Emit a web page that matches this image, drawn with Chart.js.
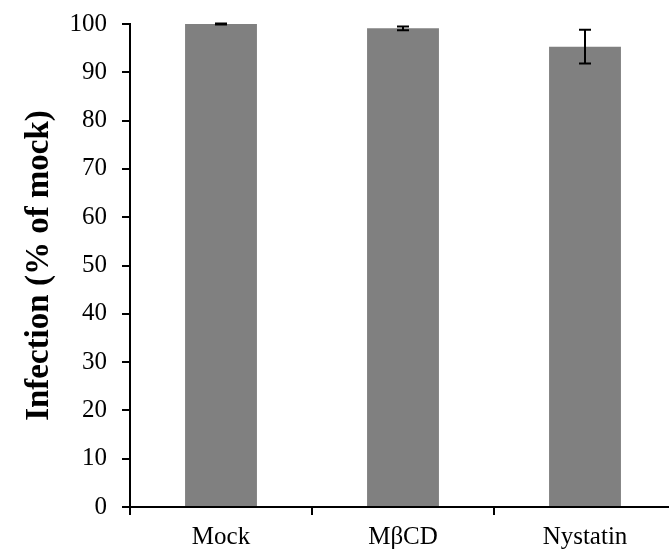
<!DOCTYPE html>
<html>
<head>
<meta charset="utf-8">
<script src="https://cdn.jsdelivr.net/npm/chart.js@4/dist/chart.umd.min.js"></script>
<style>
html,body{margin:0;padding:0;background:#fff;overflow:hidden;}
#wrap{width:669px;height:559px;overflow:hidden;position:relative;}
canvas{display:block;}
.probe{position:absolute;left:-9999px;top:0;font-family:'Liberation Serif';font-size:24px;}
</style>
</head>
<body>
<div id="wrap"><canvas id="c" width="676" height="559"></canvas></div>
<span class="probe">Mock 100 <b>Infection</b></span>
<script>
const categories = ['Mock', 'MβCD', 'Nystatin'];
const values = [100, 99.1, 95.3];
const errors = [0.1, 0.4, 3.5];
const yTickValues = [0, 10, 20, 30, 40, 50, 60, 70, 80, 90, 100];

const FONT = "'Liberation Serif', 'Times New Roman', Times, serif";

const errorBarPlugin = {
  id: 'errorBars',
  afterDatasetsDraw(chart) {
    const ctx = chart.ctx;
    const meta = chart.getDatasetMeta(0);
    const y = chart.scales.y;
    ctx.save();
    ctx.strokeStyle = '#000';
    ctx.lineWidth = 2;
    meta.data.forEach((bar, i) => {
      const x = bar.x;
      const top = y.getPixelForValue(values[i] + errors[i]);
      const bot = y.getPixelForValue(values[i] - errors[i]);
      const cap = 6;
      ctx.beginPath();
      ctx.moveTo(x, top); ctx.lineTo(x, bot);
      ctx.moveTo(x - cap, top); ctx.lineTo(x + cap, top);
      ctx.moveTo(x - cap, bot); ctx.lineTo(x + cap, bot);
      ctx.stroke();
    });
    ctx.restore();
  }
};

function draw() {
  new Chart(document.getElementById('c'), {
    type: 'bar',
    data: {
      labels: categories,
      datasets: [{
        data: values,
        backgroundColor: '#808080',
        borderWidth: 0,
        categoryPercentage: 1,
        barPercentage: 0.395
      }]
    },
    options: {
      responsive: false,
      animation: false,
      devicePixelRatio: 1,
      layout: { padding: { top: 24, right: 0, bottom: 0, left: 0 } },
      plugins: { legend: { display: false }, tooltip: { enabled: false } },
      scales: {
        x: {
          grid: { drawOnChartArea: false, drawTicks: true, tickLength: 8, color: '#000', lineWidth: 2, offset: true },
          border: { color: '#000', width: 2 },
          ticks: { color: '#000', font: { family: FONT, size: 25 }, padding: 7, maxRotation: 0 },
          afterFit(s) { s.height = 52; }
        },
        y: {
          min: 0, max: 100,
          afterBuildTicks(s) { s.ticks = yTickValues.map(v => ({ value: v })); },
          grid: { drawOnChartArea: false, drawTicks: true, tickLength: 8, color: '#000', lineWidth: 2 },
          border: { color: '#000', width: 2 },
          ticks: { color: '#000', font: { family: FONT, size: 25 }, padding: 15 },
          title: { display: true, text: 'Infection (% of mock)', color: '#000', font: { family: FONT, size: 33, weight: 'bold' }, padding: { top: 20, bottom: 0 } },
          afterFit(s) { s.width = 130; s.paddingTop = 0; s.paddingBottom = 0; }
        }
      }
    },
    plugins: [errorBarPlugin]
  });
}

if (document.fonts && document.fonts.load) {
  Promise.all([
    document.fonts.load("25px 'Liberation Serif'"),
    document.fonts.load("bold 33px 'Liberation Serif'")
  ]).then(draw, draw);
} else {
  draw();
}
</script>
</body>
</html>
